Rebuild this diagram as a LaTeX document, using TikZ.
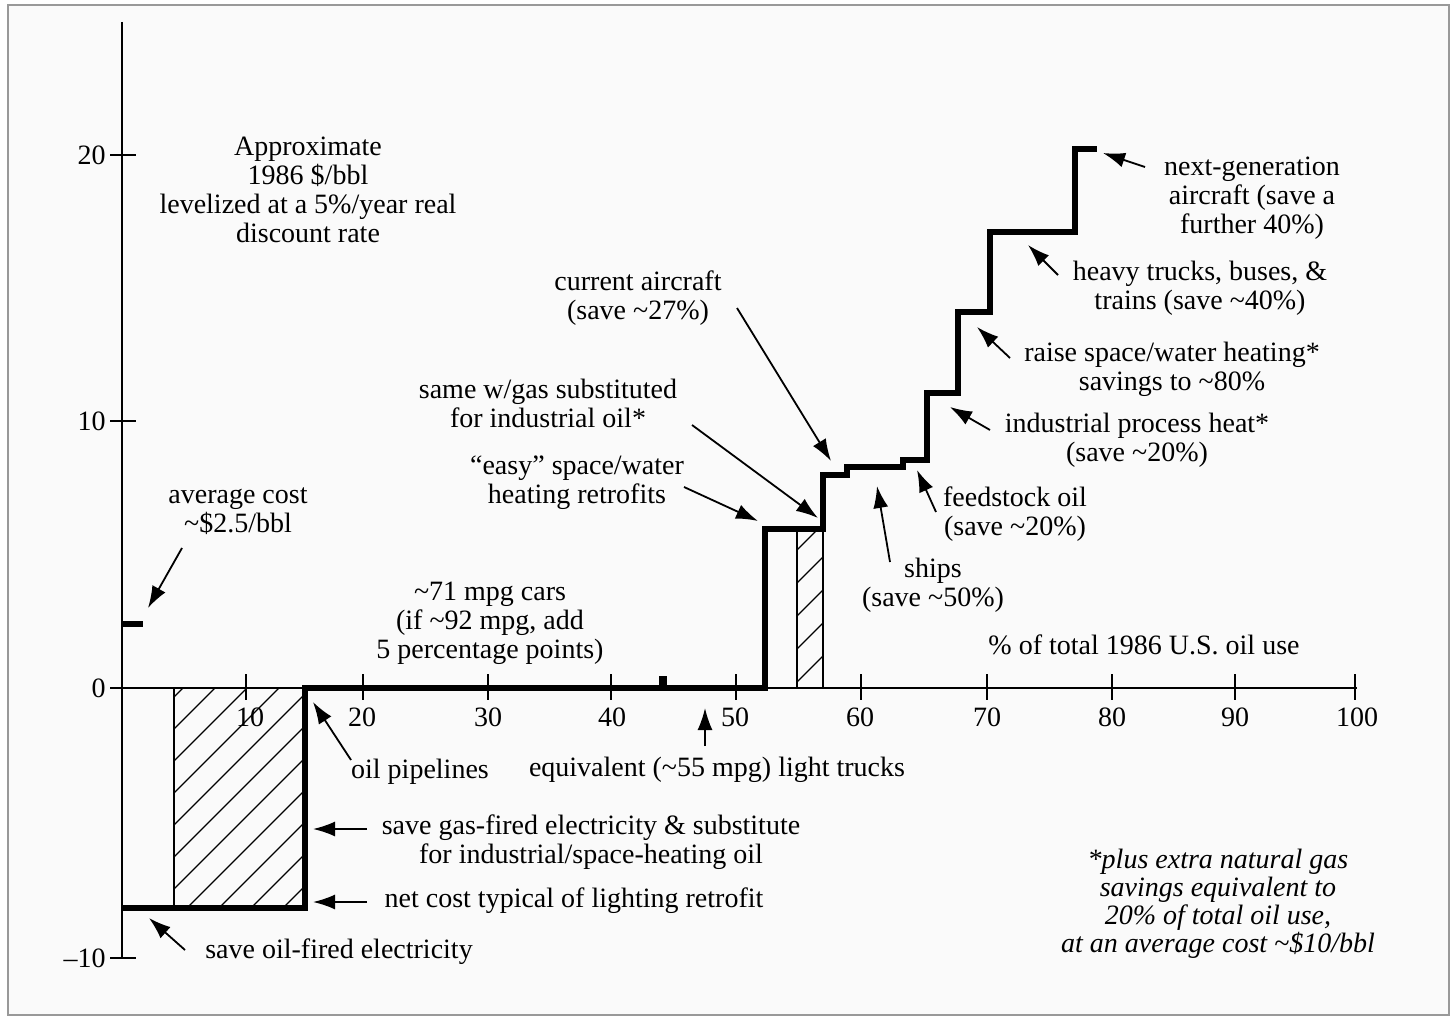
\documentclass[tikz,border=0pt]{standalone}
\usepackage{fontspec}
\setmainfont{Liberation Serif}
\usetikzlibrary{arrows.meta}
\newcommand{\mytilde}{\textasciitilde}
\begin{document}
\begin{tikzpicture}[x=0.5pt,y=-0.5pt,
  lbl/.style={font=\fontsize{14}{14.5}\selectfont, align=center, inner sep=0pt},
  ptr/.style={line width=0.9pt, -{Latex[length=11pt,width=7.5pt]}},
  curve/.style={line width=3pt, line cap=butt, line join=miter},
  thinline/.style={line width=0.8pt},
  hatchline/.style={line width=0.6pt}]
\useasboundingbox (0,0) rectangle (1456,1021);
\fill[white] (0,0) rectangle (1456,1021);
\draw[black!40, line width=1pt, fill=black!2] (8,5) rectangle (1449,1015);

% hatched areas
\begin{scope}
  \clip (174,688) rectangle (305,908);
  \foreach \c in {871,903,...,1223} \draw[hatchline] (\c-908,908) -- (\c-688,688);
\end{scope}
\begin{scope}
  \clip (797,529) rectangle (823,688);
  \foreach \c in {1314,1347,...,1520} \draw[hatchline] (\c-688,688) -- (\c-529,529);
\end{scope}
\draw[thinline] (174,688) -- (174,908);
\draw[thinline] (797,529) -- (797,688);
\draw[thinline] (823,529) -- (823,688);

% axes
\draw[thinline] (122,22) -- (122,958);
\draw[thinline] (110,688) -- (1357,688);
\foreach \y/\l in {155/20,421/10,688/0,958/{\textendash10}} {
  \draw[thinline] (110,\y) -- (136,\y);
  \node[lbl, anchor=east] (yl\y) at (106,\y) {\l};
}
\foreach \xx/\lx/\l in {246/250/10,363/362/20,488/488/30,611/612/40,736/735/50,861/860/60,987/987/70,1112/1112/80,1235/1235/90,1355/1357/100} {
  \draw[thinline] (\xx,674) -- (\xx,700);
  \node[lbl] (xl\l) at (\lx,717) {\l};
}

% supply curve
\draw[curve] (122,908) -- (305,908) -- (305,688) -- (765,688) -- (765,529) -- (823,529)
  -- (823,475) -- (847,475) -- (847,467) -- (903,467) -- (903,460) -- (927,460)
  -- (927,393) -- (958,393) -- (958,312) -- (990,312) -- (990,232) -- (1075,232)
  -- (1075,149) -- (1097,149);
\fill (659,676) rectangle (667,688);
\draw[curve] (122,624) -- (143,624);

% labels
\node[lbl] (approx) at (308,190) {Approximate\\1986 \$/bbl\\levelized at a 5\%/year real\\discount rate};
\node[lbl] (avg) at (238,511) {average cost\\\mytilde\$2.5/bbl};
\node[lbl] (cars) at (490,623) {\mytilde71 mpg cars\\(if \mytilde92 mpg, add\\5 percentage points)};
\node[lbl] (easy) at (577,483) {“easy” space/water\\heating retrofits};
\node[lbl] (samegas) at (548,403) {same w/gas substituted\\for industrial oil*};
\node[lbl] (curair) at (638,298) {current aircraft\\(save \mytilde27\%)};
\node[lbl] (nextgen) at (1252,198) {next-generation\\aircraft (save a\\further 40\%)};
\node[lbl] (heavy) at (1200,288) {heavy trucks, buses, \&\\trains (save \mytilde40\%)};
\node[lbl] (raise) at (1172,369) {raise space/water heating*\\savings to \mytilde80\%};
\node[lbl] (indheat) at (1137,440) {industrial process heat*\\(save \mytilde20\%)};
\node[lbl] (feed) at (1015,514) {feedstock oil\\(save \mytilde20\%)};
\node[lbl] (ships) at (933,585) {ships\\(save \mytilde50\%)};
\node[lbl] (xtitle) at (1144,645) {\% of total 1986 U.S. oil use};
\node[lbl] (pipe) at (420,772) {oil pipelines};
\node[lbl] (trucks) at (717,770) {equivalent (\mytilde55 mpg) light trucks};
\node[lbl] (gasel) at (591,842) {save gas-fired electricity \& substitute\\for industrial/space-heating oil};
\node[lbl] (netcost) at (574,901) {net cost typical of lighting retrofit};
\node[lbl] (oilel) at (339,952) {save oil-fired electricity};
\node[lbl, font=\fontsize{14}{14}\selectfont\itshape] (foot) at (1218,904) {*plus extra natural gas\\savings equivalent to\\20\% of total oil use,\\at an average cost \mytilde\$10/bbl};

% arrow ends
\coordinate (t1) at (182,548);  \coordinate (h1) at (148,608);
\coordinate (t2) at (185,950);  \coordinate (h2) at (149,918);
\coordinate (t3) at (367,902);  \coordinate (h3) at (313,902);
\coordinate (t4) at (367,829);  \coordinate (h4) at (313,829);
\coordinate (t5) at (351,760);  \coordinate (h5) at (313,702);
\coordinate (t6) at (705,746);  \coordinate (h6) at (705,708);
\coordinate (t7) at (684,487);  \coordinate (h7) at (758,521);
\coordinate (t8) at (692,425);  \coordinate (h8) at (818,518);
\coordinate (t9) at (737,308);  \coordinate (h9) at (831,461);
\coordinate (t10) at (890,562); \coordinate (h10) at (877,486);
\coordinate (t11) at (936,512); \coordinate (h11) at (917,470);
\coordinate (t12) at (990,430); \coordinate (h12) at (950,407);
\coordinate (t13) at (1010,358); \coordinate (h13) at (977,327);
\coordinate (t14) at (1058,275); \coordinate (h14) at (1028,245);
\coordinate (t15) at (1145,167); \coordinate (h15) at (1103,153);
\foreach \i in {1,...,15} \draw[ptr] (t\i) -- (h\i);
\end{tikzpicture}
\end{document}
